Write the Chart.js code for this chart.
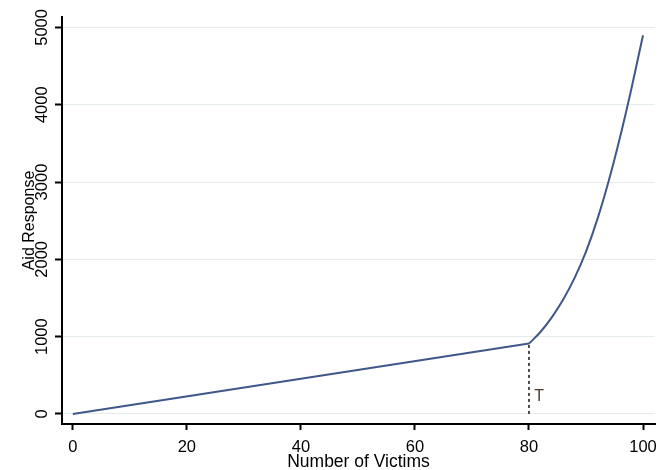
<!DOCTYPE html>
<html>
<head>
<meta charset="utf-8">
<script src="https://cdn.jsdelivr.net/npm/chart.js@4.4.1/dist/chart.umd.min.js"></script>
<style>
  html, body { margin: 0; padding: 0; background: #ffffff; }
  #wrap { width: 667px; height: 470px; }
</style>
</head>
<body>
<div id="wrap"><canvas id="c" width="667" height="470"></canvas></div>
<script>
// ---- data ----
const linearX = [0, 80];
const linearY = [0, 910];
const curveX = [80, 82, 84, 86, 88, 90, 92, 94, 96, 98, 100];
const curveY = [910, 1060, 1250, 1480, 1760, 2100, 2520, 3020, 3590, 4220, 4900];
const thresholdX = [80, 80];
const thresholdY = [0, 910];
const thresholdLabel = "T";
const thresholdLabelPos = [81.8, 220];
const xTicks = [0, 20, 40, 60, 80, 100];
const yTicks = [0, 1000, 2000, 3000, 4000, 5000];
const xTitle = "Number of Victims";
const yTitle = "Aid Response";

const toPts = (xs, ys) => xs.map((x, i) => ({ x: x, y: ys[i] }));
const FONT = '"Liberation Sans", Arial, Helvetica, sans-serif';
const LINE = '#3f5789';

const tLabelPlugin = {
  id: 'tLabel',
  afterDatasetsDraw(chart) {
    const { ctx, scales } = chart;
    const px = scales.x.getPixelForValue(thresholdLabelPos[0]);
    const py = scales.y.getPixelForValue(thresholdLabelPos[1]);
    ctx.save();
    ctx.font = '16px ' + FONT;
    ctx.fillStyle = '#4a3c30';
    ctx.textAlign = 'center';
    ctx.textBaseline = 'middle';
    ctx.fillText(thresholdLabel, px, py);
    ctx.restore();
  }
};

new Chart(document.getElementById('c'), {
  type: 'scatter',
  data: {
    datasets: [
      { data: toPts(linearX, linearY), showLine: true, borderColor: LINE, borderWidth: 2, pointRadius: 0, tension: 0 },
      { data: toPts(curveX, curveY), showLine: true, borderColor: LINE, borderWidth: 2, pointRadius: 0, cubicInterpolationMode: 'monotone' },
      { data: toPts(thresholdX, thresholdY), showLine: true, borderColor: '#222222', borderWidth: 1.6, borderDash: [3, 3], pointRadius: 0 }
    ]
  },
  options: {
    responsive: false,
    animation: false,
    layout: { padding: { top: 17, right: 12, left: 0, bottom: 0 } },
    plugins: { legend: { display: false }, tooltip: { enabled: false } },
    scales: {
      x: {
        type: 'linear',
        min: -1.9,
        max: 102.1,
        afterBuildTicks: s => { s.ticks = xTicks.map(v => ({ value: v })); },
        afterFit: s => { s.height = 46; },
        grid: { drawOnChartArea: false, drawTicks: true, tickLength: 6, tickColor: '#000', tickWidth: 2 },
        border: { display: true, color: '#000', width: 2 },
        ticks: { color: '#000', font: { family: FONT, size: 16.5 }, padding: 8, maxRotation: 0, minRotation: 0, callback: v => String(v) },
        title: { display: true, text: xTitle, color: '#000', font: { family: FONT, size: 17.5, lineHeight: 0.95 }, padding: { top: 0, bottom: 0 } }
      },
      y: {
        type: 'linear',
        min: -130,
        max: 5135,
        afterBuildTicks: s => { s.ticks = yTicks.map(v => ({ value: v })); },
        afterFit: s => { s.width = 62; },
        grid: { drawOnChartArea: true, color: '#e3ebef', lineWidth: 1, drawTicks: true, tickLength: 7, tickColor: '#000', tickWidth: 2 },
        border: { display: true, color: '#000', width: 2 },
        ticks: { color: '#000', font: { family: FONT, size: 16.5 }, padding: -6, minRotation: 90, maxRotation: 90, crossAlign: 'center', callback: v => String(v) },
        title: { display: true, text: yTitle, color: '#000', font: { family: FONT, size: 16, lineHeight: 1.1 }, padding: { top: 21, bottom: 0 } }
      }
    }
  },
  plugins: [tLabelPlugin]
});
</script>
</body>
</html>
